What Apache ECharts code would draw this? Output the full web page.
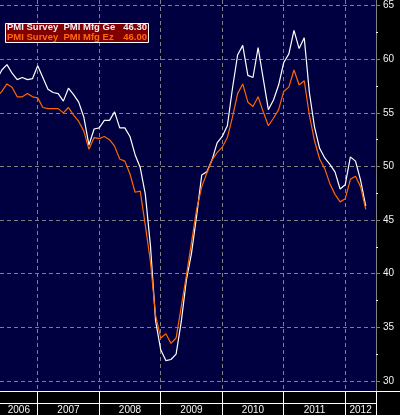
<!DOCTYPE html>
<html>
<head>
<meta charset="utf-8">
<title>PMI Survey</title>
<style>
  html, body { margin: 0; padding: 0; background: #000; }
  #main { width: 400px; height: 415px; }
</style>
<script src="https://cdn.jsdelivr.net/npm/echarts@6/dist/echarts.min.js"></script>
</head>
<body>
<div id="main"></div>
<script>
// monthly readings, 2006-04 .. 2012-04, plotted at month end
let startYear = 2006
let startMonth = 4

let geValues = [
  58.1, 59.0, 59.5, 58.7, 58.1, 58.3, 58.1, 58.2, 59.4,
  58.3, 57.2, 56.9, 56.8, 56.1, 57.3, 56.7, 56.0, 54.6, 52.0, 53.5, 53.6,
  54.3, 54.3, 55.1, 53.6, 53.6, 52.8, 51.1, 49.9, 47.4, 42.6, 35.6, 32.9,
  31.9, 32.0, 32.5, 35.5, 39.4, 41.9, 45.4, 49.2, 49.5, 50.6, 52.2, 52.8,
  53.8, 57.3, 60.4, 61.3, 58.5, 58.3, 61.1, 58.2, 55.3, 56.2, 57.6, 59.7,
  60.5, 62.7, 61.0, 62.0, 56.9, 53.7, 51.7, 50.8, 50.2, 49.5, 47.9, 48.3,
  50.9, 50.5, 48.7, 46.3
]
let ezValues = [
  56.5, 57.0, 57.7, 57.4, 56.5, 56.5, 56.8, 56.5, 56.4,
  55.5, 55.4, 55.4, 55.4, 55.0, 55.5, 54.8, 54.2, 53.3, 51.6, 52.7, 52.6,
  52.8, 52.5, 51.9, 50.7, 50.5, 49.3, 47.6, 47.7, 44.5, 41.1, 36.1, 34.0,
  34.4, 33.5, 34.0, 36.9, 39.8, 42.9, 46.0, 48.1, 49.4, 50.6, 51.3, 51.8,
  52.7, 54.6, 56.8, 57.7, 56.0, 55.6, 56.5, 55.1, 53.8, 54.5, 55.3, 57.0,
  57.4, 59.0, 57.6, 58.0, 54.8, 52.4, 50.7, 49.8, 48.4, 47.4, 46.7, 47.0,
  48.8, 49.1, 48.1, 46.0
]
let seriesNames = ['PMI Survey  PMI Mfg Ge', 'PMI Survey  PMI Mfg Ez']
let lastLabels = ['46.30', '46.00']
let years = [2006, 2007, 2008, 2009, 2010, 2011, 2012]
let yTicks = [30, 35, 40, 45, 50, 55, 60, 65]
let yMinorTicks = [32.5, 37.5, 42.5, 47.5, 52.5, 57.5, 62.5]

let font = "'Liberation Sans', Arial, sans-serif"
let xMin = 2006.387
let xMax = 2012.5
let yMin = 29.06
let yMax = 65.53

let toPoints = list => list.map((v, i) => [startYear + (startMonth + i) / 12, v])

// year separators + centre of the visible part of each year
let yearBounds = years.filter(y => y > xMin).concat([xMax])
let yearCentres = years.map(y => (Math.max(y, xMin) + Math.min(y + 1, xMax)) / 2)

let chart = echarts.init(document.getElementById('main'))

let nameText = color => ({ color: color, fontSize: 9.5, fontFamily: font, width: 112, lineHeight: 9.5 })
let valueText = color => ({ color: color, fontSize: 9.5, fontFamily: font, width: 28, align: 'right', lineHeight: 9.5 })

let option = {
  backgroundColor: '#000000',
  animation: false,
  title: {
    left: 5,
    top: 23,
    padding: [0, 2, 0, 2],
    backgroundColor: '#800000',
    borderColor: '#ffffff',
    borderWidth: 1,
    text: `{a|${seriesNames[0]}}{av|${lastLabels[0]}}\n{b|${seriesNames[1]}}{bv|${lastLabels[1]}}`,
    textStyle: {
      rich: {
        a: nameText('#f2eaf8'),
        av: valueText('#f2eaf8'),
        b: nameText('#ff6a10'),
        bv: valueText('#ff6a10')
      }
    }
  },
  grid: {
    left: 0,
    right: 24,
    top: 0,
    bottom: 24,
    show: true,
    backgroundColor: '#000040',
    borderWidth: 0
  },
  xAxis: [
    {
      type: 'value',
      min: xMin,
      max: xMax,
      position: 'bottom',
      axisLine: { show: true, lineStyle: { color: '#ffffff', width: 1 } },
      axisTick: {
        show: true,
        customValues: yearBounds,
        length: 24,
        lineStyle: { color: '#ffffff', width: 1 }
      },
      axisLabel: {
        customValues: yearCentres,
        formatter: v => String(Math.floor(v)),
        margin: 14,
        color: '#f4f4f4',
        fontSize: 10,
        fontFamily: font
      },
      splitLine: {
        show: true,
        lineStyle: { color: '#808080', type: [4, 3], width: 1 }
      }
    },
    {
      // second row line of the date band
      type: 'value',
      min: xMin,
      max: xMax,
      position: 'bottom',
      offset: 12,
      axisLine: { show: true, lineStyle: { color: '#ffffff', width: 1 } },
      axisTick: { show: false },
      axisLabel: { show: false },
      splitLine: { show: false }
    }
  ],
  yAxis: [
    {
      type: 'value',
      min: yMin,
      max: yMax,
      position: 'right',
      axisLine: { show: true, lineStyle: { color: '#808080', width: 1 } },
      axisTick: {
        show: true,
        customValues: yTicks,
        length: 4,
        lineStyle: { color: '#808080' }
      },
      axisLabel: {
        customValues: yTicks,
        margin: 7,
        color: '#f4f4f4',
        fontSize: 10,
        fontFamily: font
      },
      splitLine: {
        show: true,
        lineStyle: { color: '#808080', type: [4, 3], width: 1 }
      }
    },
    {
      // minor ticks
      type: 'value',
      min: yMin,
      max: yMax,
      position: 'right',
      axisLine: { show: false },
      axisTick: {
        show: true,
        customValues: yMinorTicks,
        length: 2,
        lineStyle: { color: '#ffffff' }
      },
      axisLabel: { show: false },
      splitLine: { show: false }
    }
  ],
  graphic: [
    {
      type: 'line',
      shape: { x1: 376, y1: 391.5, x2: 400, y2: 391.5 },
      style: { stroke: '#ffffff', lineWidth: 1 }
    }
  ],
  series: [
    {
      name: seriesNames[0],
      type: 'line',
      data: toPoints(geValues),
      symbol: 'none',
      lineStyle: { color: '#ffffff', width: 1.2 },
      z: 3
    },
    {
      name: seriesNames[1],
      type: 'line',
      data: toPoints(ezValues),
      symbol: 'none',
      lineStyle: { color: '#ff6600', width: 1.2 },
      z: 4
    }
  ]
}

chart.setOption(option)
</script>
</body>
</html>
